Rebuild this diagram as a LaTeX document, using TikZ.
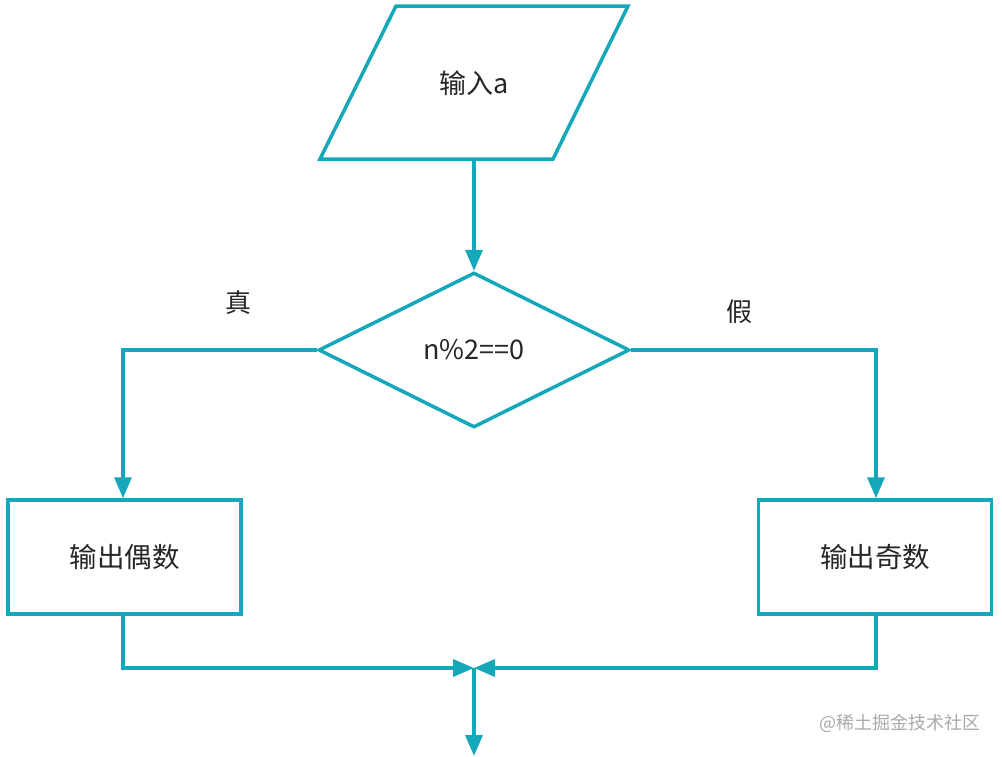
\documentclass[tikz,border=0pt]{standalone}
\usepackage{fontspec}
\setmainfont{Noto Sans CJK SC}
\usetikzlibrary{shapes.geometric,arrows.meta}
\definecolor{teal1}{RGB}{20,168,186}
\definecolor{wm}{RGB}{170,170,170}
\begin{document}
\begin{tikzpicture}[x=1pt,y=-1pt,
  line width=3.5pt,
  conn/.style={draw=teal1,line width=3.5pt,-{Triangle[length=21pt,width=17pt]}},
  plain/.style={draw=teal1,line width=3.5pt},
  boxnode/.style={draw=teal1,line width=3.5pt,rectangle,minimum width=233pt,minimum height=114pt,inner sep=0pt,font=\fontsize{27.5}{32}\selectfont,text=black!85},
  decide/.style={draw=teal1,line width=3.5pt,diamond,minimum width=311pt,minimum height=155pt,inner sep=0pt,font=\fontsize{27}{32}\selectfont,text=black!85},
  txt/.style={font=\fontsize{27}{32}\selectfont,text=black!85},
  lbl/.style={font=\fontsize{26}{30}\selectfont,text=black!85}
]
\useasboundingbox (0,0) rectangle (1002,756);
\fill[white] (0,0) rectangle (1002,756);
% parallelogram
\coordinate (p1) at (396,6);
\coordinate (p2) at (628,6);
\coordinate (p3) at (553,159);
\coordinate (p4) at (320,159);
\draw[plain,line join=miter] (p1) -- (p2) -- (p3) -- (p4) -- cycle;
\node[txt] (input) at (474,83) {输入a};
\coordinate (inbot) at (474,159);
% diamond
\node[decide] (dec) at (474,350) {n\%2==0};
% boxes
\node[boxnode] (even) at (124.5,557) {输出偶数};
\node[boxnode] (odd) at (875,557) {输出奇数};
% labels
\node[lbl] (t) at (238,303) {真};
\node[lbl] (f) at (739,312) {假};
% connectors
\draw[conn] (inbot) -- (dec.north);
\coordinate (lc) at (123,350);
\coordinate (rc) at (876,350);
\draw[conn] (dec.west) -- (lc) -- (even.north -| lc);
\draw[conn] (dec.east) -- (rc) -- (odd.north -| rc);
\coordinate (m) at (474,668);
\coordinate (lb) at (123,668);
\coordinate (rb) at (876,668);
\coordinate (endp) at (474,756);
\draw[conn] (even.south -| lb) -- (lb) -- (m);
\draw[conn] (odd.south -| rb) -- (rb) -- (m);
\draw[conn] (m) -- (endp);
% watermark
\node[font=\fontsize{18}{21}\selectfont,text=wm] (wmk) at (900,723) {@稀土掘金技术社区};
\end{tikzpicture}
\end{document}
